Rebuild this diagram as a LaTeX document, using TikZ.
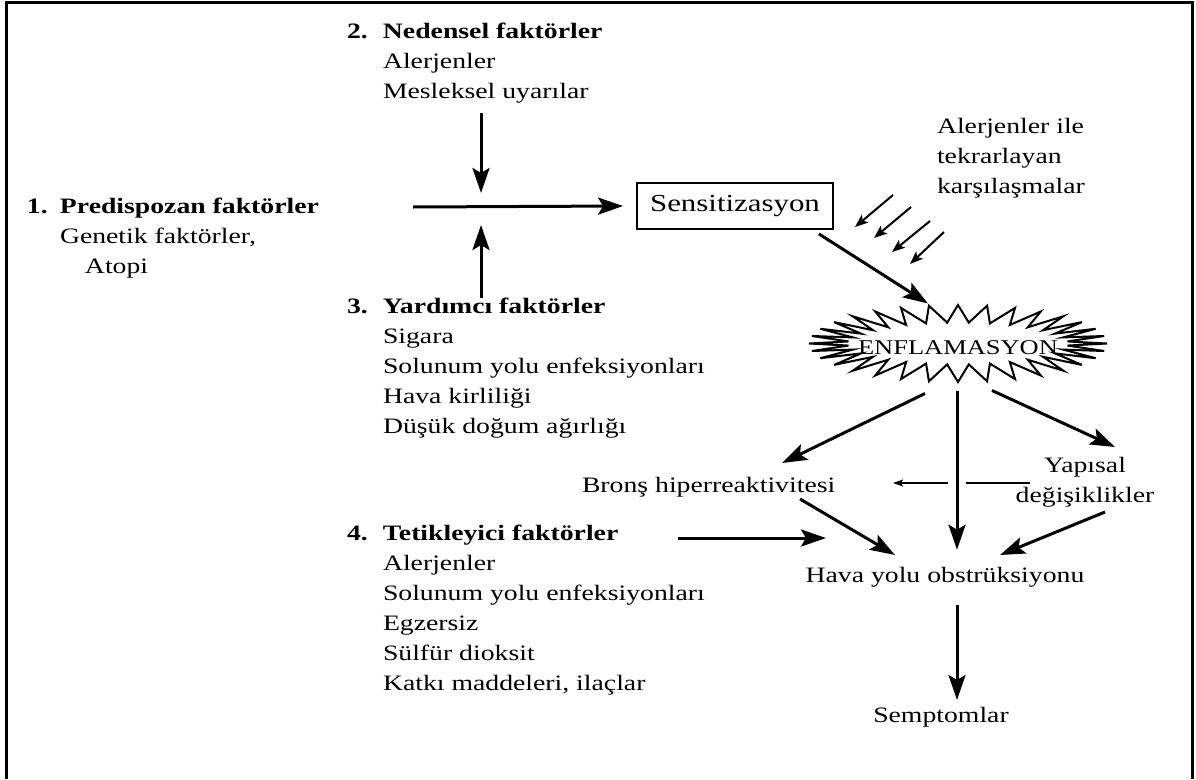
\documentclass[tikz,border=0pt]{standalone}
\usepackage{fontspec}
\setmainfont{Liberation Serif}[FakeStretch=1.26]
\usetikzlibrary{arrows.meta,calc}
\begin{document}
\begin{tikzpicture}[x=1pt,y=-1pt,
  txt/.style={inner sep=0pt, outer sep=0pt, font=\fontsize{22}{30}\selectfont, align=left},
  bigarrow/.style={line width=3pt, -{Stealth[length=25pt,width=17pt,inset=5pt]}},
  smallarrow/.style={line width=2pt, -{Stealth[length=13pt,width=10pt,inset=3pt]}},
  thinline/.style={line width=1.3pt},
  thinarrow/.style={line width=1.3pt, -{Stealth[length=10pt,width=7pt,inset=2pt]}},
  starline/.style={line width=2pt, line join=miter},
  frame/.style={line width=3pt, line join=miter}
]
\useasboundingbox (0,0) rectangle (1196,779);
\draw[frame] (6,779) -- (6,2.5) -- (1192,2.5) -- (1192,779);

% text blocks
\node[txt, anchor=north west] (n1) at (27,198)
  {\makebox[33pt][l]{\textbf{1.}}\textbf{Predispozan faktörler}\\
   \hspace*{33pt}Genetik faktörler,\\
   \hspace*{58pt}Atopi};
\node[txt, anchor=north west] (n2) at (347,23)
  {\makebox[36pt][l]{\textbf{2.}}\textbf{Nedensel faktörler}\\
   \hspace*{36pt}Alerjenler\\
   \hspace*{36pt}Mesleksel uyarılar};
\node[txt, anchor=north west] (n3) at (347,298)
  {\makebox[36pt][l]{\textbf{3.}}\textbf{Yardımcı faktörler}\\
   \hspace*{36pt}Sigara\\
   \hspace*{36pt}Solunum yolu enfeksiyonları\\
   \hspace*{36pt}Hava kirliliği\\
   \hspace*{36pt}Düşük doğum ağırlığı};
\node[txt, anchor=north west] (n4) at (347,525)
  {\makebox[36pt][l]{\textbf{4.}}\textbf{Tetikleyici faktörler}\\
   \hspace*{36pt}Alerjenler\\
   \hspace*{36pt}Solunum yolu enfeksiyonları\\
   \hspace*{36pt}Egzersiz\\
   \hspace*{36pt}Sülfür dioksit\\
   \hspace*{36pt}Katkı maddeleri, ilaçlar};
\node[txt, anchor=north west] (alr) at (937,118)
  {Alerjenler ile\\tekrarlayan\\karşılaşmalar};
\node[draw, line width=1.8pt, minimum width=196pt, minimum height=46pt, inner sep=0pt,
      font=\fontsize{24.5}{30}\selectfont] (sens) at (735,206) {Sensitizasyon};
\coordinate (burst) at (958,343.5);
\node[inner sep=0pt, font=\fontsize{21}{25}\selectfont] (enf) at (958,348) {ENFLAMASYON};
\node[txt, anchor=base west] (bron) at (582,492) {Bronş hiperreaktivitesi};
\node[txt, align=center, anchor=north] (yap) at (1085,457) {Yapısal\\değişiklikler};
\node[txt, anchor=base] (hava) at (945,582) {Hava yolu obstrüksiyonu};
\node[txt, anchor=base] (semp) at (941,722) {Semptomlar};

% starburst
\draw[starline, shift={(burst)}] plot[samples=65, domain=0:360, variable=\t]
  ({(129.5+19.5*cos(32*\t))*cos(\t)}, {(29.75+8.75*cos(32*\t))*sin(\t)}) -- cycle;

% left part
\coordinate (cross) at (481,207);
\coordinate (hstart) at (413,207);
\draw[bigarrow] (hstart) -- ($(sens.west)+(-13,0)$);
\draw[bigarrow, shorten >=14pt] ($(n2.south -| cross)+(0,10)$) -- (cross);
\draw[bigarrow, shorten >=18pt] (n3.north -| cross) -- (cross);

% sensitization to inflammation
\draw[bigarrow] ($(sens.south east)+(-15,4)$) -- ($(burst)+(-30,-40)$);

% repeated encounters
\coordinate (r1s) at (893,195); \coordinate (r1e) at (855,227);
\coordinate (r2s) at (911,207); \coordinate (r2e) at (874,238);
\coordinate (r3s) at (930,221); \coordinate (r3e) at (892,252);
\coordinate (r4s) at (944,232); \coordinate (r4e) at (910,264);
\draw[smallarrow] (r1s) -- (r1e);
\draw[smallarrow] (r2s) -- (r2e);
\draw[smallarrow] (r3s) -- (r3e);
\draw[smallarrow] (r4s) -- (r4e);

% from inflammation
\draw[bigarrow] ($(burst)+(-33,50)$) -- ($(bron.base west)+(200,-29)$);
\draw[bigarrow] ($(burst)+(34,47)$) -- ($(yap.north)+(30,-10)$);
\coordinate (thinend) at (893,483);
\draw[thinline, shorten >=8pt] ($(yap.north)+(-55,26)$) -- (thinend -| burst);
\draw[thinarrow, shorten <=10pt] (thinend -| burst) -- (thinend);
\draw[bigarrow] ($(burst)+(-1,47)$) -- ($(hava.north -| burst)+(-1,-17)$);

% to obstruction
\draw[bigarrow] ($(bron.base west)+(218,7)$) -- ($(hava.base)+(-50,-27)$);
\draw[bigarrow] ($(n4.north west)+(331,13)$) -- ($(hava.base)+(-119,-44)$);
\draw[bigarrow] ($(yap.north)+(20,55)$) -- ($(hava.base)+(55,-27)$);
\draw[bigarrow] ($(hava.base -| burst)+(-1,23)$) -- ($(semp.base -| burst)+(-1,-22)$);
\end{tikzpicture}
\end{document}
